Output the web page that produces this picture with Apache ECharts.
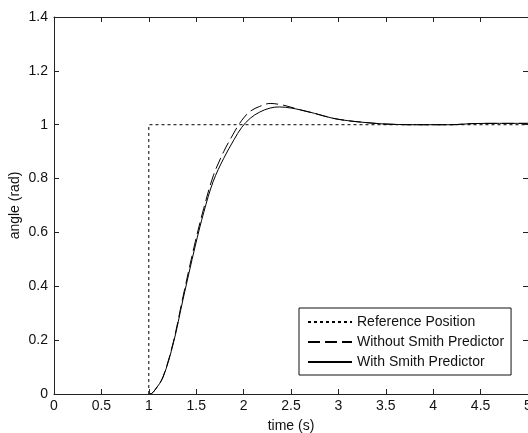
<!DOCTYPE html>
<html>
<head>
<meta charset="utf-8">
<script src="https://cdn.jsdelivr.net/npm/echarts@6/dist/echarts.min.js"></script>
<style>html,body{margin:0;padding:0;background:#fff;}#c{width:528px;height:433px;}</style>
</head>
<body>
<div id="c"></div>
<script>
var xTicks = [0, 0.5, 1, 1.5, 2, 2.5, 3, 3.5, 4, 4.5, 5];
var yTicks = [0, 0.2, 0.4, 0.6, 0.8, 1, 1.2, 1.4];
var seriesNames = ['Reference Position', 'Without Smith Predictor', 'With Smith Predictor'];

var refT = [1, 1, 5];
var refV = [0, 1, 1];

var withoutT = [1.0, 1.03, 1.065, 1.15, 1.26, 1.36, 1.49, 1.58, 1.68, 1.79, 1.89, 1.94, 2.0, 2.07, 2.17, 2.28, 2.4, 2.5, 2.6, 2.75, 2.94, 3.1, 3.23, 3.47, 3.8, 4.2, 4.4, 4.7, 5];
var withoutV = [0, 0.002, 0.015, 0.064, 0.195, 0.36, 0.565, 0.69, 0.81, 0.9, 0.965, 0.995, 1.025, 1.05, 1.068, 1.079, 1.074, 1.065, 1.055, 1.042, 1.024, 1.015, 1.01, 1.003, 1.0, 1.0, 1.004, 1.005, 1.005];

var withT = [1.0, 1.03, 1.065, 1.15, 1.26, 1.36, 1.49, 1.58, 1.68, 1.79, 1.9, 1.98, 2.07, 2.17, 2.28, 2.38, 2.5, 2.6, 2.75, 2.94, 3.1, 3.23, 3.47, 3.8, 4.2, 4.4, 4.7, 5];
var withV = [0, 0.002, 0.015, 0.062, 0.19, 0.35, 0.55, 0.675, 0.79, 0.875, 0.945, 0.99, 1.024, 1.047, 1.062, 1.066, 1.062, 1.055, 1.042, 1.024, 1.015, 1.01, 1.003, 1.0, 1.0, 1.004, 1.005, 1.005];

function zip(a, b) { return a.map(function (t, i) { return [t, b[i]]; }); }

var FONT = 'Liberation Sans, Arial, sans-serif';
var axisCol = '#222';
var chart = echarts.init(document.getElementById('c'));
var labelStyle = { color: '#111', fontSize: 14, fontFamily: FONT };
chart.setOption({
  animation: false,
  backgroundColor: '#fff',
  grid: { left: 54, right: 0, top: 17, bottom: 39, containLabel: false, outerBoundsMode: 'none' },
  xAxis: [{
    type: 'value', min: xTicks[0], max: xTicks[xTicks.length - 1], interval: 0.5,
    position: 'bottom', z: 10,
    name: 'time (s)', nameLocation: 'middle', nameGap: 25,
    nameTextStyle: { color: '#111', fontSize: 14, fontFamily: FONT },
    axisLine: { show: true, onZero: false, lineStyle: { color: axisCol, width: 1 } },
    axisTick: { show: true, inside: true, length: 5, lineStyle: { color: axisCol } },
    axisLabel: Object.assign({ margin: 5, showMaxLabel: true, showMinLabel: true }, labelStyle),
    splitLine: { show: false }
  }, {
    type: 'value', min: 0, max: 5, interval: 0.5, position: 'top', z: 10,
    axisLine: { show: true, onZero: false, lineStyle: { color: axisCol, width: 1 } },
    axisTick: { show: true, inside: true, length: 5, lineStyle: { color: axisCol } },
    axisLabel: { show: false }, splitLine: { show: false }
  }],
  yAxis: [{
    type: 'value', min: yTicks[0], max: yTicks[yTicks.length - 1], interval: 0.2,
    position: 'left', z: 10,
    name: 'angle (rad)', nameLocation: 'middle', nameGap: 32, nameRotate: 90, nameMoveOverlap: false,
    nameTextStyle: { color: '#111', fontSize: 14, fontFamily: FONT },
    axisLine: { show: true, onZero: false, lineStyle: { color: axisCol, width: 1 } },
    axisTick: { show: true, inside: true, length: 5, lineStyle: { color: axisCol } },
    axisLabel: Object.assign({ margin: 6, formatter: function (v) { return String(Math.round(v * 10) / 10); } }, labelStyle),
    splitLine: { show: false }
  }, {
    type: 'value', min: 0, max: 1.4, interval: 0.2, position: 'right', z: 10,
    axisLine: { show: true, onZero: false, lineStyle: { color: axisCol, width: 1 } },
    axisTick: { show: true, inside: true, length: 5, lineStyle: { color: axisCol } },
    axisLabel: { show: false }, splitLine: { show: false }
  }],
  legend: {
    orient: 'vertical', left: 299, top: 308,
    padding: [7, 7, 6, 8], itemGap: 6, itemWidth: 44, itemHeight: 14,
    borderColor: '#111', borderWidth: 1, backgroundColor: '#fff', borderRadius: 0,
    itemStyle: { opacity: 0, borderWidth: 0 },
    textStyle: { color: '#111', fontSize: 14, fontFamily: FONT, padding: [0, 0, 0, 0] },
    data: seriesNames
  },
  series: [{
    name: seriesNames[0], type: 'line', data: zip(refT, refV), symbol: 'none',
    lineStyle: { color: '#000', width: 1, type: [3, 3] }, itemStyle: { color: '#000' }, z: 3
  }, {
    name: seriesNames[1], type: 'line', data: zip(withoutT, withoutV), symbol: 'none', smooth: 0.35,
    lineStyle: { color: '#000', width: 1, type: [12, 5] }, itemStyle: { color: '#000' }, z: 4
  }, {
    name: seriesNames[2], type: 'line', data: zip(withT, withV), symbol: 'none', smooth: 0.35,
    lineStyle: { color: '#000', width: 1, type: 'solid' }, itemStyle: { color: '#000' }, z: 5
  }]
});
</script>
</body>
</html>
